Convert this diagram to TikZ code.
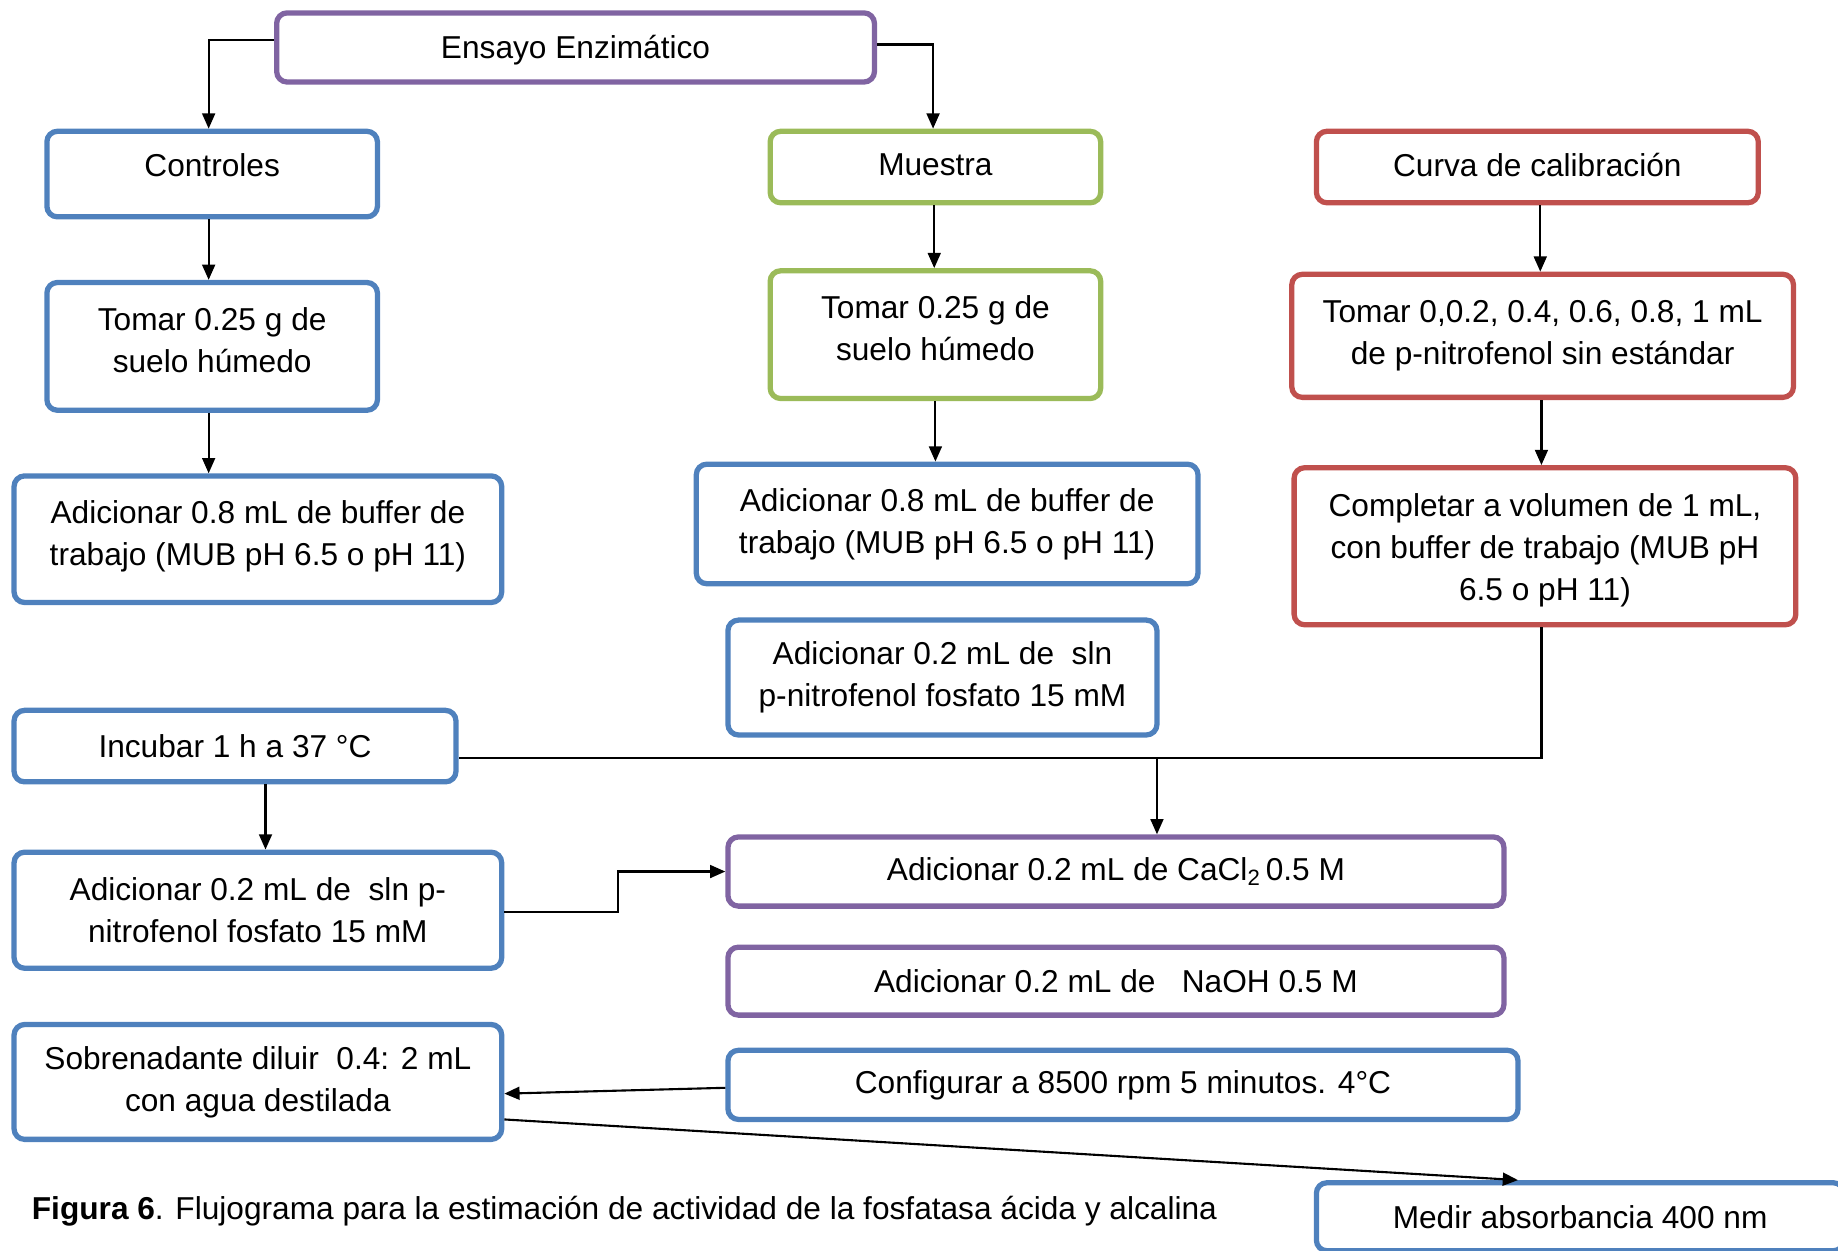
\documentclass[tikz,border=0pt]{standalone}
\usepackage{fontspec}
\setmainfont{Liberation Sans}
\usetikzlibrary{arrows.meta}
\definecolor{cblue}{HTML}{4F81BD}
\definecolor{cgreen}{HTML}{9BBB59}
\definecolor{cred}{HTML}{C0504D}
\definecolor{cpurple}{HTML}{8064A2}
\newcommand{\uptext}[2]{\raisebox{#1}[\height][\depth]{\begin{tabular}{@{}c@{}}#2\end{tabular}}}
\begin{document}
\begin{tikzpicture}[x=1pt,y=-1pt,
  bx/.style={draw=#1, line width=4.5pt, rounded corners=9pt, fill=white, inner sep=0pt,
    align=center, font=\fontsize{27}{36}\selectfont},
  arr/.style={line width=1.8pt, -{Triangle[length=13pt,width=11pt]}},
  ln/.style={line width=1.8pt}]
\useasboundingbox (0,0) rectangle (1568,1067);
\clip (0,0) rectangle (1568,1067);

\node[bx=cpurple, minimum width=510pt, minimum height=59pt] (ensayo) at (491,40.5) {\raisebox{-2pt}[\height][\depth]{Ensayo Enzimático}};
\node[bx=cblue, minimum width=282pt, minimum height=73pt] (controles) at (181,148.5) {\raisebox{8pt}[\height][\depth]{Controles}};
\node[bx=cgreen, minimum width=282pt, minimum height=61pt] (muestra) at (798,142.5) {\raisebox{2pt}[\height][\depth]{Muestra}};
\node[bx=cred, minimum width=377pt, minimum height=61pt] (curva) at (1311.5,142.5) {\raisebox{2pt}[\height][\depth]{Curva de calibración}};

\node[bx=cblue, minimum width=282pt, minimum height=109pt] (tomarL) at (181,295.5) {\uptext{3pt}{Tomar 0.25 g de\\suelo húmedo}};
\node[bx=cgreen, minimum width=282pt, minimum height=109pt] (tomarM) at (798,285.5) {\uptext{3pt}{Tomar 0.25 g de\\suelo húmedo}};
\node[bx=cred, minimum width=428pt, minimum height=105pt] (tomarR) at (1316,286.5) {Tomar 0,0.2, 0.4, 0.6, 0.8, 1 mL\\de p-nitrofenol sin estándar};

\node[bx=cblue, minimum width=416pt, minimum height=108pt] (adicL) at (220,460) {\uptext{3pt}{Adicionar 0.8 mL de buffer de\\trabajo (MUB pH 6.5 o pH 11)}};
\node[bx=cblue, minimum width=428pt, minimum height=102pt] (adicM) at (808,447) {Adicionar 0.8 mL de buffer de\\trabajo (MUB pH 6.5 o pH 11)};
\node[bx=cred, minimum width=428pt, minimum height=134pt] (completar) at (1318,466) {\uptext{-3pt}{Completar a volumen de 1 mL,\\con buffer de trabajo (MUB pH\\6.5 o pH 11)}};

\node[bx=cblue, minimum width=366pt, minimum height=98pt] (adicN) at (804,578) {Adicionar 0.2 mL de \ sln\\p-nitrofenol fosfato 15 mM};
\node[bx=cblue, minimum width=377pt, minimum height=61pt] (incubar) at (200.5,636.5) {Incubar 1 h a 37 °C};
\node[bx=cblue, minimum width=416pt, minimum height=99pt] (adicP) at (220,776.5) {Adicionar 0.2 mL de \ sln p-\\nitrofenol fosfato 15 mM};

\node[bx=cpurple, minimum width=662pt, minimum height=59pt] (cacl) at (952,743.5) {Adicionar 0.2 mL de CaCl\textsubscript{2}\,0.5 M};
\node[bx=cpurple, minimum width=662pt, minimum height=58pt] (naoh) at (952,837) {Adicionar 0.2 mL de \ \ NaOH 0.5 M};
\node[bx=cblue, minimum width=416pt, minimum height=98pt] (sobre) at (220,923) {Sobrenadante diluir \ 0.4: 2 mL\\con agua destilada};
\node[bx=cblue, minimum width=674pt, minimum height=59pt] (config) at (958,925.5) {Configurar a 8500 rpm 5 minutos. 4°C};
\node[bx=cblue, minimum width=450pt, minimum height=58pt] (medir) at (1348,1038) {Medir absorbancia 400 nm};

\node[anchor=west, inner sep=0pt, font=\fontsize{27}{36}\selectfont] (cap) at (27,1033) {\textbf{Figura 6}. Flujograma para la estimación de actividad de la fosfatasa ácida y alcalina};

% connectors
\draw[arr] ([yshift=6.5pt]ensayo.west) -| ([xshift=-3pt]controles.north);
\draw[arr] ([yshift=2.5pt]ensayo.east) -| ([xshift=-2pt]muestra.north);
\draw[arr] ([xshift=-3pt]controles.south) -- ([xshift=-3pt]tomarL.north);
\draw[arr] ([xshift=-3pt]tomarL.south) -- ([xshift=-3pt]tomarL.south |- adicL.north);
\draw[arr] ([xshift=-1pt]muestra.south) -- ([xshift=-1pt]tomarM.north);
\draw[arr] (tomarM.south) -- (tomarM.south |- adicM.north);
\draw[arr] ([xshift=-2pt]tomarR.north |- curva.south) -- ([xshift=-2pt]tomarR.north);
\draw[arr] ([xshift=-1pt]tomarR.south) -- ([xshift=-1pt]tomarR.south |- completar.north);

\coordinate (j) at (1315,647);
\coordinate (k) at (987,647);
\draw[ln] (j |- completar.south) -- (j) -- (j -| incubar.east);
\draw[arr] (k) -- (k |- cacl.north);

\draw[arr] ([xshift=26pt]incubar.south) -- ([xshift=26pt]incubar.south |- adicP.north);
\draw[arr] ([yshift=-1.5pt]adicP.east) -- ++(97,0) |- (cacl.west);
\draw[arr] ([yshift=-2.5pt]config.west) -- ([yshift=-10pt]sobre.east);
\draw[arr] ([yshift=-32pt]sobre.east) -- ([xshift=-53pt]medir.north);
\end{tikzpicture}
\end{document}
